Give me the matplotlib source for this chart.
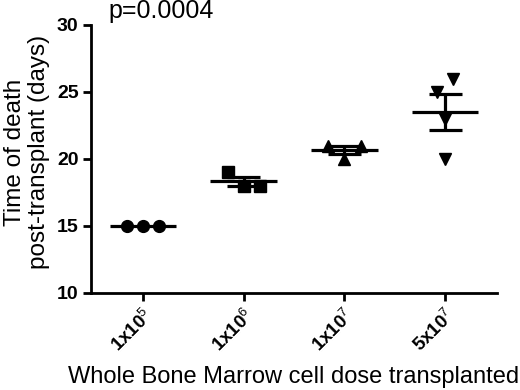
import numpy as np
import matplotlib
matplotlib.use("Agg")
import matplotlib.pyplot as plt

plt.rcParams['font.family'] = ['Liberation Sans', 'DejaVu Sans']
plt.rcParams['mathtext.fontset'] = 'custom'
plt.rcParams['mathtext.rm'] = 'Liberation Sans'
plt.rcParams['mathtext.it'] = 'Liberation Sans'
plt.rcParams['mathtext.bf'] = 'Liberation Sans:bold'

# ---- data ----
categories = [r'1x10$^{5}$', r'1x10$^{6}$', r'1x10$^{7}$', r'5x10$^{7}$']
group_1e5 = [15, 15, 15]
group_1e6 = [19, 18, 18]
group_1e7 = [21, 20, 21]
group_5e7 = [25, 26, 23, 20]
groups = [group_1e5, group_1e6, group_1e7, group_5e7]
markers = ['o', 's', '^', 'v']
p_text = 'p=0.0004'
y_ticks = [10, 15, 20, 25, 30]

fig = plt.figure(figsize=(5.2, 3.9), dpi=100)
ax = fig.add_axes([0.175, 0.249, 0.781, 0.687])


def swarm_offsets(vals, gap=1.0, step=0.16):
    vals = np.asarray(vals, dtype=float)
    order = np.argsort(vals, kind='stable')
    clusters = []
    for i in order:
        if clusters and vals[i] - vals[clusters[-1][-1]] <= gap:
            clusters[-1].append(i)
        else:
            clusters.append([i])
    off = np.zeros(len(vals))
    for c in clusters:
        c = sorted(c)
        n = len(c)
        for k, idx in enumerate(c):
            off[idx] = (k - (n - 1) / 2) * step
    return off


for i, (vals, m) in enumerate(zip(groups, markers)):
    vals = np.asarray(vals, dtype=float)
    off = swarm_offsets(vals)
    mean = vals.mean()
    sem = vals.std(ddof=1) / np.sqrt(len(vals))
    ax.plot(i + off, vals, linestyle='none', marker=m, color='black',
            markersize=8.5, zorder=3)
    ax.hlines(mean, i - 0.33, i + 0.33, color='black', lw=2.3, zorder=4)
    if sem > 0:
        ax.vlines(i, mean - sem, mean + sem, color='black', lw=2.3, zorder=4)
        ax.hlines([mean - sem, mean + sem], i - 0.165, i + 0.165,
                  color='black', lw=2.3, zorder=4)

ax.set_xlim(-0.515, 3.515)
ax.set_ylim(10, 30)
ax.set_yticks(y_ticks)
ax.set_yticklabels([str(t) for t in y_ticks], fontsize=14, fontweight='bold')
ax.set_xticks(range(len(categories)))
ax.set_xticklabels(categories, rotation=45, ha='right', va='top',
                   rotation_mode='anchor', fontsize=13.5, fontweight='bold')
ax.tick_params(axis='both', width=2, length=6, color='black', pad=3)

for s in ['top', 'right']:
    ax.spines[s].set_visible(False)
for s in ['left', 'bottom']:
    ax.spines[s].set_linewidth(2)

fig.text(27 / 520, 0.61, 'Time of death\npost-transplant (days)',
         fontsize=17.5, rotation=90, ha='center', va='center',
         multialignment='center', linespacing=1.1)
ax.set_xlabel('Whole Bone Marrow cell dose transplanted', fontsize=17,
              labelpad=8)
fig.text(108 / 520, 1 - 18 / 390, p_text, fontsize=18, ha='left',
         va='baseline')

fig.savefig('out.png', dpi=100, facecolor='white')
